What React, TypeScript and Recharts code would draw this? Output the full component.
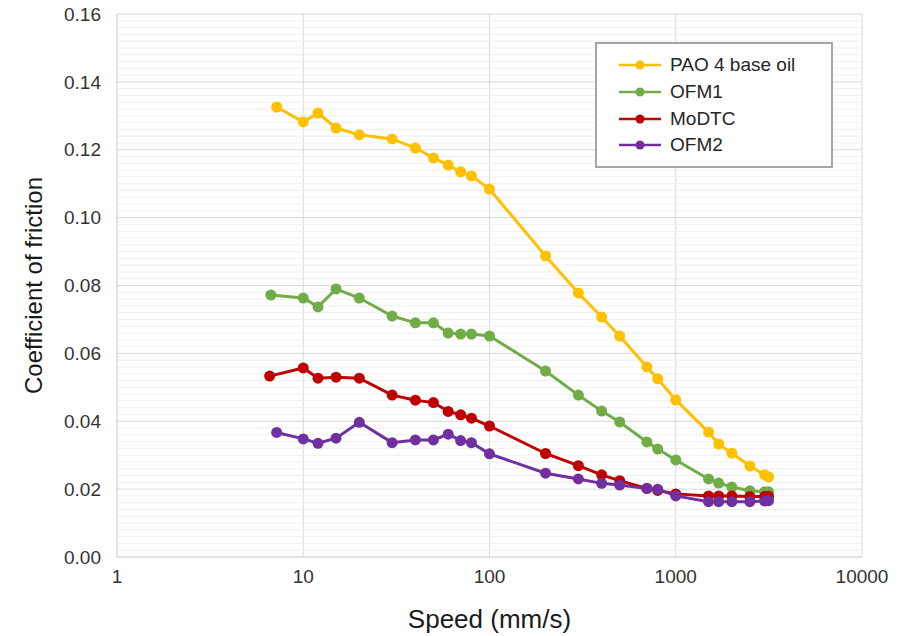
import React from "react";
import {
  LineChart,
  Line,
  XAxis,
  YAxis,
  CartesianGrid,
  ReferenceLine,
  Legend,
} from "recharts";

// speeds shared by all series after the first point (mm/s)
const SPEEDS = [10, 12, 15, 20, 30, 40, 50, 60, 70, 80, 100, 200, 300, 400, 500, 700, 800, 1000, 1500, 1700, 2000, 2500, 3000, 3150];

const PAO_START = 7.2;
const PAO = [0.1326, 0.1282, 0.1308, 0.1264, 0.1244, 0.1232, 0.1205, 0.1176, 0.1155, 0.1135, 0.1123, 0.1084, 0.0887, 0.0778, 0.0707, 0.0651, 0.056, 0.0525, 0.0463, 0.0368, 0.0333, 0.0306, 0.0268, 0.0242, 0.0236];

const OFM1_START = 6.7;
const OFM1 = [0.0772, 0.0763, 0.0737, 0.079, 0.0763, 0.071, 0.069, 0.069, 0.066, 0.0657, 0.0657, 0.0651, 0.0548, 0.0477, 0.043, 0.0398, 0.0339, 0.0318, 0.0286, 0.023, 0.0218, 0.0206, 0.0195, 0.0192, 0.0192];

const MODTC_START = 6.6;
const MODTC = [0.0533, 0.0557, 0.0527, 0.053, 0.0527, 0.0477, 0.0462, 0.0455, 0.0429, 0.0419, 0.0409, 0.0386, 0.0305, 0.0269, 0.0242, 0.0225, 0.0202, 0.0196, 0.0186, 0.018, 0.018, 0.018, 0.0178, 0.0178, 0.0179];

const OFM2_START = 7.2;
const OFM2 = [0.0367, 0.0348, 0.0335, 0.035, 0.0397, 0.0337, 0.0345, 0.0345, 0.0362, 0.0343, 0.0337, 0.0304, 0.0247, 0.023, 0.0217, 0.0212, 0.0202, 0.02, 0.018, 0.0163, 0.0163, 0.0163, 0.0163, 0.0165, 0.0166];

const X_TICKS = [1, 10, 100, 1000, 10000];
const Y_TICKS = [0, 0.02, 0.04, 0.06, 0.08, 0.1, 0.12, 0.14, 0.16];

const FONT = '"Liberation Sans", Arial, sans-serif';

const SERIES = [
  { name: "PAO 4 base oil", start: PAO_START, values: PAO, color: "#FFC000" },
  { name: "OFM1", start: OFM1_START, values: OFM1, color: "#70AD47" },
  { name: "MoDTC", start: MODTC_START, values: MODTC, color: "#C00000" },
  { name: "OFM2", start: OFM2_START, values: OFM2, color: "#7030A0" },
];

const toPoints = (start: number, values: number[]) =>
  [start, ...SPEEDS].map((x, i) => ({ x, y: values[i] }));

// light minor grid every 0.002
const MINOR: number[] = [];
for (let i = 1; i < 80; i++) if (i % 10 !== 0) MINOR.push(i * 0.002);

const LegendBox = () => (
  <div
    style={{
      width: 234,
      height: 114,
      border: "2px solid #A6A6A6",
      background: "#fff",
      boxSizing: "content-box",
      paddingTop: 8,
      fontFamily: FONT,
    }}
  >
    {SERIES.map((s) => (
      <div key={s.name} style={{ display: "flex", alignItems: "center", height: 26.7 }}>
        <svg width={44} height={12} style={{ marginLeft: 21, marginRight: 8 }}>
          <line x1={1} y1={6} x2={43} y2={6} stroke={s.color} strokeWidth={2.5} />
          <circle cx={22} cy={6} r={4.5} fill={s.color} />
        </svg>
        <span style={{ fontSize: 19, color: "#262626" }}>{s.name}</span>
      </div>
    ))}
  </div>
);

export default function App() {
  return (
    <div style={{ position: "absolute", left: 0, top: 0 }}>
      <LineChart width={906} height={636} margin={{ top: 14, right: 44, bottom: 0, left: 0 }}>
        <CartesianGrid stroke="#D9D9D9" horizontal={false} />
        {MINOR.map((v) => (
          <ReferenceLine key={v} y={v} stroke="#EFEFEF" strokeWidth={1} />
        ))}
        <CartesianGrid stroke="#D9D9D9" vertical={false} />
        <XAxis
          dataKey="x"
          type="number"
          scale="log"
          domain={[1, 10000]}
          ticks={X_TICKS}
          allowDataOverflow
          height={79}
          axisLine={{ stroke: "#D9D9D9" }}
          tickLine={false}
          tickSize={0}
          tickMargin={13}
          tick={{ fontFamily: FONT, fontSize: 19, fill: "#333" }}
          label={{
            value: "Speed (mm/s)",
            position: "insideBottom",
            offset: 8,
            fontFamily: FONT,
            fontSize: 26,
            fill: "#1a1a1a",
          }}
        />
        <YAxis
          type="number"
          domain={[0, 0.16]}
          ticks={Y_TICKS}
          width={117}
          axisLine={{ stroke: "#D9D9D9" }}
          tickLine={false}
          tickSize={0}
          tickMargin={16}
          tickFormatter={(v: number) => v.toFixed(2)}
          tick={{ fontFamily: FONT, fontSize: 19, fill: "#333" }}
          label={{
            value: "Coefficient of friction",
            angle: -90,
            position: "center",
            dx: -25,
            fontFamily: FONT,
            fontSize: 24,
            fill: "#1a1a1a",
          }}
        />
        <Legend
          layout="horizontal"
          align="center"
          verticalAlign="middle"
          content={() => <LegendBox />}
          wrapperStyle={{ position: "absolute", left: 595, top: 42, width: "auto" }}
        />
        {SERIES.map((s) => (
          <Line
            key={s.name}
            name={s.name}
            data={toPoints(s.start, s.values)}
            dataKey="y"
            stroke={s.color}
            strokeWidth={3}
            dot={{ r: 5.5, fill: s.color, stroke: s.color, strokeWidth: 0 }}
            isAnimationActive={false}
          />
        ))}
      </LineChart>
    </div>
  );
}
